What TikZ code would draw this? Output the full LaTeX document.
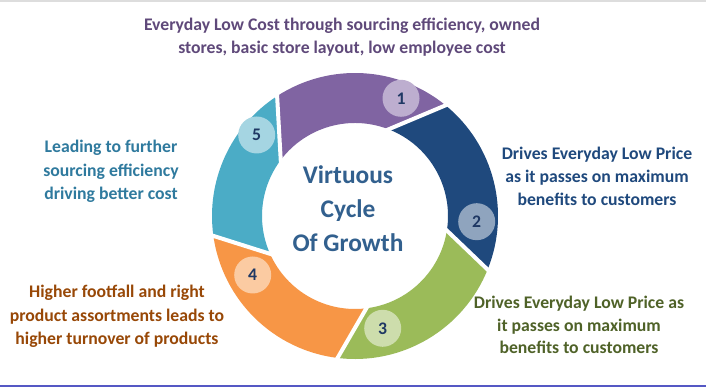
\documentclass[tikz,border=0pt]{standalone}
\usepackage{fontspec}
\setmainfont{Carlito}
\usetikzlibrary{calc}
\definecolor{sA}{HTML}{8064A2}
\definecolor{sB}{HTML}{1F497D}
\definecolor{sC}{HTML}{9BBB59}
\definecolor{sD}{HTML}{F79646}
\definecolor{sE}{HTML}{4BACC6}
\definecolor{tA}{HTML}{5F497A}
\definecolor{tB}{HTML}{1F497D}
\definecolor{tC}{HTML}{4F6228}
\definecolor{tD}{HTML}{984807}
\definecolor{tE}{HTML}{2F7A9E}
\definecolor{tMid}{HTML}{32608E}
\definecolor{numcol}{HTML}{1F3864}
\definecolor{botline}{HTML}{5558C4}
\definecolor{topline}{HTML}{DDDDDD}
\tikzset{
  txt/.style={anchor=base, inner sep=0pt, font=\fontsize{17.7}{22.8}\selectfont\bfseries},
  numc/.style={circle, minimum size=37pt, inner sep=0pt, font=\fontsize{17.7}{20}\selectfont\bfseries, text=numcol},
  gapline/.style={white, line width=4pt}
}
\begin{document}
\begin{tikzpicture}[x=1pt,y=1pt]
\useasboundingbox (0,0) rectangle (706,387);
\fill[white] (0,0) rectangle (706,387);
\draw[topline, line width=2pt] (0,386) -- (706,386);
\draw[botline, line width=1.5pt] (0,1.2) -- (706,1.2);
\def\Ro{143}
\def\Ri{93}
\begin{scope}[shift={(355,171)}]
  \coordinate (C) at (0,0);
  % segment 1 (purple)
  \fill[sA] (50.7:\Ro) arc[start angle=50.7, end angle=123, radius=\Ro] -- (143:\Ri) arc[start angle=143, end angle=68.8, radius=\Ri] -- cycle;
  % segment 2 (dark blue)
  \fill[sB] (-22:\Ro) arc[start angle=-22, end angle=50.7, radius=\Ro] -- (68.8:\Ri) arc[start angle=68.8, end angle=-9, radius=\Ri] -- cycle;
  % segment 3 (green)
  \fill[sC] (-97:\Ro) arc[start angle=-97, end angle=-22, radius=\Ro] -- (-9:\Ri) arc[start angle=-9, end angle=-83, radius=\Ri] -- cycle;
  % segment 4 (orange)
  \fill[sD] (-172:\Ro) arc[start angle=-172, end angle=-97, radius=\Ro] -- (-83:\Ri) arc[start angle=-83, end angle=-156, radius=\Ri] -- cycle;
  % segment 5 (teal)
  \fill[sE] (123:\Ro) arc[start angle=123, end angle=188, radius=\Ro] -- (204:\Ri) arc[start angle=204, end angle=143, radius=\Ri] -- cycle;
  % gaps
  \coordinate (g1i) at (143:\Ri);  \coordinate (g1o) at (123:\Ro);
  \coordinate (g2i) at (68.8:\Ri); \coordinate (g2o) at (50.7:\Ro);
  \coordinate (g3i) at (-9:\Ri);   \coordinate (g3o) at (-22:\Ro);
  \coordinate (g4i) at (-83:\Ri);  \coordinate (g4o) at (-97:\Ro);
  \coordinate (g5i) at (-156:\Ri); \coordinate (g5o) at (-172:\Ro);
  \foreach \g in {1,...,5}{
    \draw[gapline] ($(g\g i)!-0.2!(g\g o)$) -- ($(g\g i)!1.2!(g\g o)$);
  }
\end{scope}
% number circles
\node[numc, fill=sA!52!white] (n1) at (401,288.7) {1};
\node[numc, fill=sB!50!white] (n2) at (476.7,165.3) {2};
\node[numc, fill=sC!50!white] (n3) at (382.7,58.7) {3};
\node[numc, fill=sD!50!white] (n4) at (252.7,112) {4};
\node[numc, fill=sE!50!white] (n5) at (256.7,252) {5};
% center text
\node[anchor=base, inner sep=0pt, text=tMid, font=\fontsize{25.4}{34}\selectfont\bfseries] (mid) at (348,203.7)
  {\begin{tabular}[t]{@{}c@{}}Virtuous\\Cycle\\Of Growth\end{tabular}};
% labels
\node[txt, text=tA] (l1) at (342,356.3)
  {\begin{tabular}[t]{@{}c@{}}Everyday Low Cost through sourcing efficiency, owned\\stores, basic store layout, low employee cost\end{tabular}};
\node[txt, text=tB] (l2) at (597,227)
  {\begin{tabular}[t]{@{}c@{}}Drives Everyday Low Price\\as it passes on maximum\\benefits to customers\end{tabular}};
\node[txt, text=tC] (l3) at (579,78.7)
  {\begin{tabular}[t]{@{}c@{}}Drives Everyday Low Price as\\it passes on maximum\\benefits to customers\end{tabular}};
\node[txt, text=tD, font=\fontsize{17.7}{23.5}\selectfont\bfseries] (l4) at (117,89)
  {\begin{tabular}[t]{@{}c@{}}Higher footfall and right\\product assortments leads to\\higher turnover of products\end{tabular}};
\node[txt, text=tE, font=\fontsize{17.7}{23.5}\selectfont\bfseries] (l5) at (111,234)
  {\begin{tabular}[t]{@{}c@{}}Leading to further\\sourcing efficiency\\driving better cost\end{tabular}};
\end{tikzpicture}
\end{document}
